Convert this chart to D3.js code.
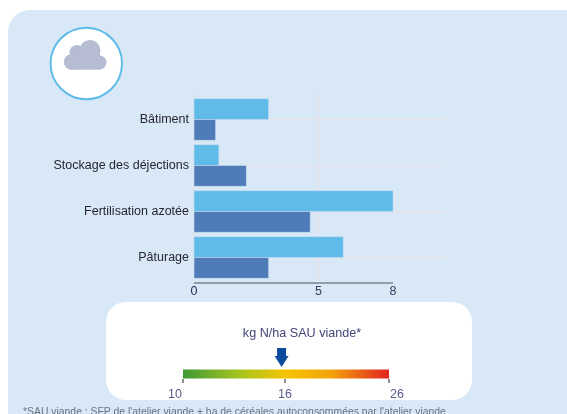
<!DOCTYPE html>
<html><head><meta charset="utf-8">
<script src="https://cdn.jsdelivr.net/npm/d3@7"></script>
<style>html,body{margin:0;padding:0;background:#fff;overflow:hidden}svg{display:block;filter:blur(0.5px)}text{font-family:"Liberation Sans",Arial,sans-serif}</style>
</head><body><svg id="c" width="567" height="414"></svg>
<script>
const categories = ["Bâtiment","Stockage des déjections","Fertilisation azotée","Pâturage"];
const seriesLight = [3, 1, 8, 6];
const seriesDark = [0.87, 2.1, 4.67, 3];
const xTicks = [0, 5, 8];
const scaleTicks = [10, 16, 26];
const markerValue = 15.8;
const gradientStops = [["0%","#3d9a35"],["28%","#a8c51f"],["50%","#f5c400"],["72%","#f3a30a"],["100%","#e2231f"]];
const axisTitle = "kg N/ha SAU viande*";
const footnote = "*SAU viande : SFP de l'atelier viande + ha de céréales autoconsommées par l'atelier viande";

const svg = d3.select("#c");
svg.append("rect").attr("x",8).attr("y",10).attr("width",600).attr("height",460).attr("rx",22).attr("fill","#d8e8f7");

// icon
svg.append("circle").attr("cx",86.3).attr("cy",63.5).attr("r",35.7).attr("fill","#fff").attr("stroke","#5fbbe9").attr("stroke-width",1.9);
const cloud = svg.append("g").attr("fill","#b6bcd2");
cloud.append("circle").attr("cx",71.5).attr("cy",62).attr("r",7.7);
cloud.append("circle").attr("cx",77).attr("cy",52.5).attr("r",7.5);
cloud.append("circle").attr("cx",90).attr("cy",50.5).attr("r",10.5);
cloud.append("circle").attr("cx",99.5).attr("cy",62.5).attr("r",7);
cloud.append("rect").attr("x",71).attr("y",52).attr("width",29).attr("height",17.7);

// bar chart
const x = d3.scaleLinear().domain([0,8]).range([194,393]);
const y = d3.scaleBand().domain(categories).range([96.5,280.5]).paddingInner(0.1).paddingOuter(0.05);
const g = svg.append("g");
g.selectAll(".hg").data(categories).join("line").attr("x1",194).attr("x2",446)
  .attr("y1",d=>y(d)+y.bandwidth()/2).attr("y2",d=>y(d)+y.bandwidth()/2).attr("stroke","#e6e3ea").attr("stroke-width",1.4);
g.selectAll(".vg").data(xTicks).join("line").attr("x1",d=>x(d)).attr("x2",d=>x(d)).attr("y1",95).attr("y2",282)
  .attr("stroke",d=>d===8?"none":"#e6e3ea").attr("stroke-width",1.4);
const bw = y.bandwidth()/2;
const barStroke = "#c3dcf2";
g.selectAll(".l").data(seriesLight).join("rect").attr("x",x(0)).attr("y",(d,i)=>y(categories[i]))
  .attr("width",d=>x(d)-x(0)).attr("height",bw).attr("fill","#60bbe9").attr("stroke",barStroke).attr("stroke-width",0.6);
g.selectAll(".d").data(seriesDark).join("rect").attr("x",x(0)).attr("y",(d,i)=>y(categories[i])+bw)
  .attr("width",d=>x(d)-x(0)).attr("height",bw).attr("fill","#4f7cb8").attr("stroke",barStroke).attr("stroke-width",0.6);
g.selectAll(".c").data(categories).join("text").attr("x",189).attr("y",d=>y(d)+y.bandwidth()/2+3)
  .attr("text-anchor","end").attr("font-size",12.5).attr("fill","#26262e").text(d=>d);
g.append("line").attr("x1",x(0)).attr("x2",x(8)).attr("y1",283).attr("y2",283).attr("stroke","#7d838c").attr("stroke-width",1.4);
g.selectAll(".t").data(xTicks).join("text").attr("x",d=>x(d)).attr("y",294.5).attr("text-anchor","middle")
  .attr("font-size",12.5).attr("fill",d=>d===0?"#1e2b55":"#33405f").text(d=>d);

// scale box
svg.append("rect").attr("x",106).attr("y",302).attr("width",366).attr("height",98).attr("rx",20).attr("fill","#fff");
svg.append("text").attr("x",302).attr("y",337).attr("text-anchor","middle").attr("font-size",12.6).attr("fill","#45457a").text(axisTitle);
const grad = svg.append("defs").append("linearGradient").attr("id","g1");
grad.selectAll("stop").data(gradientStops).join("stop").attr("offset",d=>d[0]).attr("stop-color",d=>d[1]);
const sx = d3.scaleLinear().domain(scaleTicks).range([183,285,389]);
svg.append("rect").attr("x",sx(10)).attr("y",369.5).attr("width",sx(26)-sx(10)).attr("height",9).attr("fill","url(#g1)");
svg.selectAll(".st").data(scaleTicks).join("line").attr("x1",d=>sx(d)).attr("x2",d=>sx(d)).attr("y1",379).attr("y2",383)
  .attr("stroke","#444").attr("stroke-width",1.2);
const labelDx = [-8,0,8];
svg.selectAll(".sl").data(scaleTicks).join("text").attr("x",(d,i)=>sx(d)+labelDx[i]).attr("y",397.5).attr("text-anchor","middle")
  .attr("font-size",12.5).attr("fill","#5a5a8c").text(d=>d);
const ax = sx(markerValue);
svg.append("path").attr("fill","#0b4a9c").attr("transform",`translate(${ax},348)`)
  .attr("d","M-4.5 0H4.5V8H7L0 19L-7 8H-4.5Z");

svg.append("text").attr("x",23).attr("y",415).attr("font-size",10.4).attr("fill","#6a7280").text(footnote);
</script></body></html>
